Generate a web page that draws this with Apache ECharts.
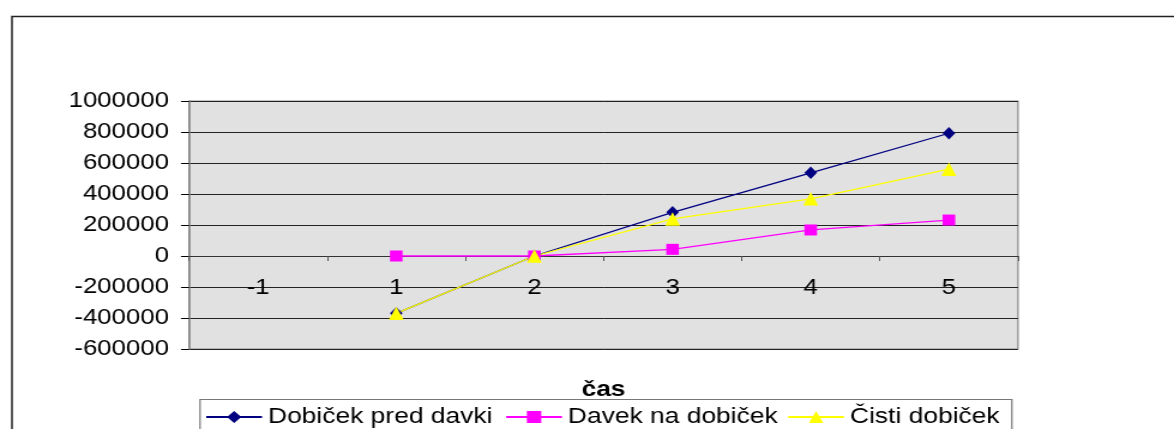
<!DOCTYPE html>
<html>
<head>
<meta charset="utf-8">
<script src="https://cdn.jsdelivr.net/npm/echarts@6/dist/echarts.min.js"></script>
<style>
  html, body { margin: 0; padding: 0; background: #fff; overflow: hidden; }
  /* The chart is laid out on a narrower canvas and widened, which gives the
     broad, stretched lettering of the original spreadsheet export. */
  #chart { width: 979px; height: 429px; transform: scaleX(1.19918); transform-origin: 0 0; }
</style>
</head>
<body>
<div id="chart"></div>
<script>
// Time periods (x axis) and the three profit series
const categories = ['-1', '1', '2', '3', '4', '5'];
const dobicekPredDavki = [null, -370000, 0, 282000, 537000, 792000];
const davekNaDobicek   = [null, 0, 0, 43000, 168000, 232000];
const cistiDobicek     = [null, -370000, 0, 239000, 369000, 560000];

// Value axis range
const yMin = -600000;
const yMax = 1000000;
const yStep = 200000;

const seriesNames = ['Dobiček pred davki', 'Davek na dobiček', 'Čisti dobiček'];
const axisTitle = 'čas';

const FONT = '"Liberation Sans", Arial, sans-serif';

// plot box
const gridTop = 101;
const gridHeight = 248;
// the category axis (line, ticks, labels, title) sits on the zero line
const zeroOffset = -gridHeight * (0 - yMin) / (yMax - yMin);

const chart = echarts.init(document.getElementById('chart'), null, { renderer: 'canvas' });

const legendBase = {
  top: 406,
  padding: 0,
  itemWidth: 46.5,
  itemHeight: 15,
  itemGap: 0,
  textStyle: { fontFamily: FONT, fontSize: 22, color: '#000' }
};

chart.setOption({
  animation: false,
  backgroundColor: '#fff',
  graphic: [
    // outer chart frame
    { type: 'rect', left: 7.5, top: 14, shape: { x: 0, y: 0, width: 1200, height: 600 },
      style: { fill: 'none', stroke: '#222', lineWidth: 1.5 }, silent: true, z: 0 },
    // legend frame
    { type: 'rect', left: 164.3, top: 397, shape: { x: 0, y: 0, width: 677, height: 100 },
      style: { fill: 'none', stroke: '#777', lineWidth: 1.2 }, silent: true, z: 0 }
  ],
  grid: {
    left: 157.6, top: gridTop, width: 691.3, height: gridHeight,
    outerBoundsMode: 'none', containLabel: false,
    show: true, backgroundColor: '#e1e1e1', borderColor: '#888', borderWidth: 1.2
  },
  legend: [
    Object.assign({ left: 171, data: [seriesNames[0]] }, legendBase),
    Object.assign({ left: 421.1, data: [seriesNames[1]] }, legendBase),
    Object.assign({ left: 656.3, data: [seriesNames[2]] }, legendBase)
  ],
  xAxis: {
    type: 'category',
    data: categories,
    boundaryGap: true,
    offset: zeroOffset,
    axisLine: { onZero: false, lineStyle: { color: '#333', width: 1 } },
    axisTick: { show: true, length: 5, lineStyle: { color: '#555', width: 1 } },
    axisLabel: { margin: 21.5, fontFamily: FONT, fontSize: 21.5, color: '#000' },
    splitLine: { show: false },
    name: axisTitle,
    nameLocation: 'middle',
    nameGap: 123,
    nameTextStyle: { fontFamily: FONT, fontSize: 22, fontWeight: 'bold', color: '#000' }
  },
  yAxis: {
    type: 'value',
    min: yMin, max: yMax, interval: yStep,
    axisLine: { show: true, lineStyle: { color: '#888', width: 1.5 } },
    axisTick: { show: true, length: 6.7, lineStyle: { color: '#000', width: 1 } },
    axisLabel: { margin: 16.7, fontFamily: FONT, fontSize: 21.5, color: '#000',
                 formatter: v => String(v) },
    splitLine: { show: true, lineStyle: { color: '#222', width: 1 } }
  },
  series: [
    {
      name: seriesNames[0], type: 'line', data: dobicekPredDavki,
      symbol: 'diamond', symbolSize: [10.5, 12.5],
      lineStyle: { color: '#000080', width: 1.3 },
      itemStyle: { color: '#000080' }
    },
    {
      name: seriesNames[1], type: 'line', data: davekNaDobicek,
      symbol: 'rect', symbolSize: [10.5, 11],
      lineStyle: { color: '#ff00ff', width: 1.3 },
      itemStyle: { color: '#ff00ff' }
    },
    {
      name: seriesNames[2], type: 'line', data: cistiDobicek,
      symbol: 'triangle', symbolSize: [12.5, 13.5],
      lineStyle: { color: '#ffff00', width: 1.3 },
      itemStyle: { color: '#ffff00' }
    }
  ]
});
</script>
</body>
</html>
